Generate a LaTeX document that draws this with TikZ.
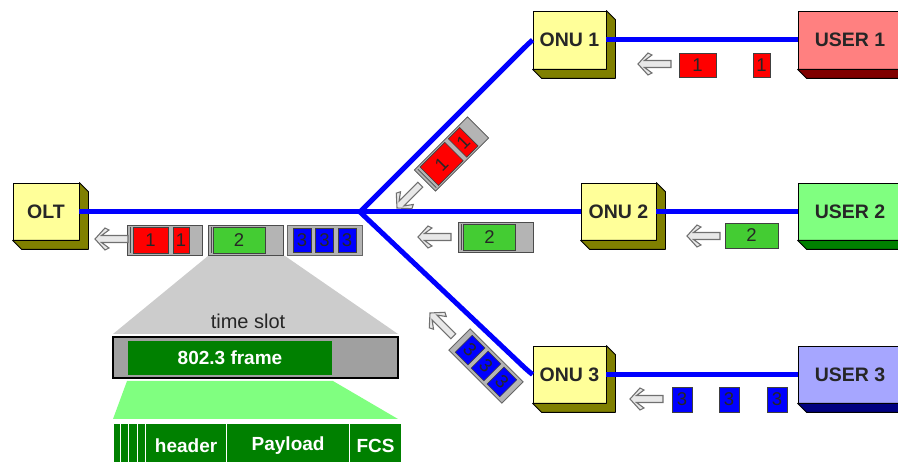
\documentclass[tikz,border=0pt]{standalone}
\usepackage{fontspec}
\setmainfont{Liberation Sans}
\definecolor{ybox}{HTML}{FFFF99}
\definecolor{yside}{HTML}{808000}
\definecolor{uone}{HTML}{FF8080}\definecolor{uones}{HTML}{800000}
\definecolor{utwo}{HTML}{80FF80}\definecolor{utwos}{HTML}{008000}
\definecolor{uthree}{HTML}{A6A6FF}\definecolor{uthrees}{HTML}{000080}
\definecolor{fiberblue}{HTML}{0000FF}
\definecolor{pktgray}{HTML}{B4B4B4}
\definecolor{pktgreen}{HTML}{44CC33}
\definecolor{darkgreen}{HTML}{008000}
\definecolor{lightgreen}{HTML}{80FF80}
\definecolor{slotgray}{HTML}{CCCCCC}
\definecolor{bargray}{HTML}{A0A0A0}
\definecolor{arrowfill}{HTML}{E8E8E8}
\definecolor{arrowedge}{HTML}{707070}
\newcommand{\boxfont}{\fontsize{19.5}{21}\selectfont\bfseries}
\newcommand{\digitfont}{\fontsize{18.5}{19}\selectfont}
\newcommand{\fieldfont}{\fontsize{19}{21}\selectfont\bfseries}
\newcommand{\sideface}[2]{\filldraw[fill=#2, draw=black, line width=0.8, line join=round] (#1.north east) -- ([shift={(9,9)}]#1.north east) -- ([shift={(9,9)}]#1.south east) -- ([shift={(9,9)}]#1.south west) -- (#1.south west) -- (#1.south east) -- cycle;}
\newcommand{\pktred}[1]{%
  \filldraw[fill=pktgray, draw=black!70, line width=0.7] (-37.5,-15) rectangle (37.5,15);
  \draw[black!70, line width=0.7] (-34.5,-13) -- (-34.5,13);
  \node[pkt, fill=red, minimum width=35, minimum height=26] (#1a) at (-14,0) {1};
  \node[pkt, fill=red, minimum width=16, minimum height=26] (#1b) at (16.5,0) {1};}
\newcommand{\pktgreen}[1]{%
  \filldraw[fill=pktgray, draw=black!70, line width=0.7] (-37.5,-15) rectangle (37.5,15);
  \draw[black!70, line width=0.7] (-34.5,-13) -- (-34.5,13);
  \node[pkt, fill=pktgreen, minimum width=52, minimum height=26] (#1a) at (-6.5,0) {2};}
\newcommand{\pktblue}[1]{%
  \filldraw[fill=pktgray, draw=black!60, line width=0.9] (-37.5,-15) rectangle (37.5,15);
  \node[pkt, fill=fiberblue, minimum width=18, minimum height=24] (#1a) at (-22.5,0) {3};
  \node[pkt, fill=fiberblue, minimum width=18, minimum height=24] (#1b) at (0,0) {3};
  \node[pkt, fill=fiberblue, minimum width=18, minimum height=24] (#1c) at (22.5,0) {3};}
\begin{document}
\begin{tikzpicture}[x=1pt, y=-1pt,
  box3d/.style={draw=black, line width=0.8, font=\boxfont, text=black!85, inner sep=0},
  fiber/.style={draw=fiberblue, line width=5},
  pkt/.style={draw=black!75, line width=0.6, inner sep=0, font=\digitfont, text=black!85},
  field/.style={draw=white, line width=1.2, fill=darkgreen, inner sep=0, text=white, font=\fieldfont, minimum height=44, anchor=north west},
  garrow/.pic={\filldraw[fill=arrowfill, draw=arrowedge, line width=1.1, line join=miter] (0,0) -- (10,-11) -- (14,-9) -- (6.5,-3.5) -- (33,-3.5) -- (33,3.5) -- (6.5,3.5) -- (14,9) -- (10,11) -- cycle;}]
\useasboundingbox (0,0) rectangle (898,462);
\clip (0,0) rectangle (898,462);

% time slot expansion
\fill[slotgray] (208,256) -- (285,256) -- (398,334) -- (113,334) -- cycle;
\node[font=\fontsize{20}{22}\selectfont, text=black!85] (tslot) at (248,321) {time slot};
\node[draw=black, line width=1.5, fill=bargray, minimum width=285, minimum height=41, inner sep=0] (bar) at (255.5,357.5) {};
\node[fill=darkgreen, minimum width=204, minimum height=34, inner sep=0, text=white, font=\fieldfont] (frame) at (230,358) {802.3 frame};
\fill[lightgreen] (127,381) -- (333,381) -- (398,419) -- (113,419) -- cycle;
\node[field, minimum width=7] (f1) at (113,423) {};
\node[field, minimum width=8] (f2) at (120,423) {};
\node[field, minimum width=9] (f3) at (128,423) {};
\node[field, minimum width=8] (f4) at (137,423) {};
\node[field, minimum width=81] (fh) at (145,423) {header};
\node[field, minimum width=123] (fp) at (226,423) {Payload};
\node[field, minimum width=52] (ff) at (349,423) {FCS};

% boxes
\node[box3d, fill=ybox, minimum width=66, minimum height=57] (olt) at (46,211.5) {OLT};
\node[box3d, fill=ybox, minimum width=73, minimum height=58] (onu1) at (569.5,40) {ONU 1};
\node[box3d, fill=ybox, minimum width=75, minimum height=57] (onu2) at (618.5,211.5) {ONU 2};
\node[box3d, fill=ybox, minimum width=73, minimum height=57] (onu3) at (569.5,374.5) {ONU 3};
\node[box3d, fill=uone, minimum width=104, minimum height=58] (user1) at (850,40) {USER 1};
\node[box3d, fill=utwo, minimum width=104, minimum height=57] (user2) at (850,211.5) {USER 2};
\node[box3d, fill=uthree, minimum width=104, minimum height=57] (user3) at (850,374.5) {USER 3};
\sideface{olt}{yside}
\sideface{onu1}{yside}
\sideface{onu2}{yside}
\sideface{onu3}{yside}
\sideface{user1}{uones}
\sideface{user2}{utwos}
\sideface{user3}{uthrees}

% fibers
\coordinate (split) at (360,212);
\draw[fiber] (olt.east) -- (onu2.west);
\draw[fiber, rounded corners=5] (split) -- (527,45) -- (onu1.west);
\draw[fiber, rounded corners=5] (split) -- (527,370) -- (onu3.west);
\draw[fiber] (onu1.east) -- (user1.west);
\draw[fiber] (onu2.east) -- (user2.west);
\draw[fiber] (onu3.east) -- (user3.west);

% packets at OLT
\begin{scope}[shift={(164.5,240)}]\pktred{pa}\end{scope}
\begin{scope}[shift={(245.5,240)}]\pktgreen{pb}\end{scope}
\begin{scope}[shift={(324.5,240)}]\pktblue{pc}\end{scope}
\pic at (95,239) {garrow};
% packets on the trunk side
\begin{scope}[shift={(451.5,154)}, rotate=45, transform shape]\pktred{pd}\end{scope}
\begin{scope}[shift={(496,237)}]\pktgreen{pe}\end{scope}
\begin{scope}[shift={(486,366)}, rotate=-45, transform shape]\pktblue{pf}\end{scope}
\pic at (418,237) {garrow};
\pic[rotate=45] at (397,208) {garrow};
\pic[rotate=-45] at (430,313) {garrow};
% packets from users
\node[pkt, fill=red, minimum width=37, minimum height=24] (q1a) at (697.5,65) {1};
\node[pkt, fill=red, minimum width=17, minimum height=24] (q1b) at (761.5,65) {1};
\node[pkt, fill=pktgreen, minimum width=53, minimum height=25] (q2) at (751.5,235.5) {2};
\node[pkt, fill=fiberblue, minimum width=20, minimum height=25] (q3a) at (682,399.5) {3};
\node[pkt, fill=fiberblue, minimum width=20, minimum height=25] (q3b) at (729,399.5) {3};
\node[pkt, fill=fiberblue, minimum width=20, minimum height=25] (q3c) at (777,399.5) {3};
\pic at (638,64) {garrow};
\pic at (687,236) {garrow};
\pic at (630,399) {garrow};
\end{tikzpicture}
\end{document}
